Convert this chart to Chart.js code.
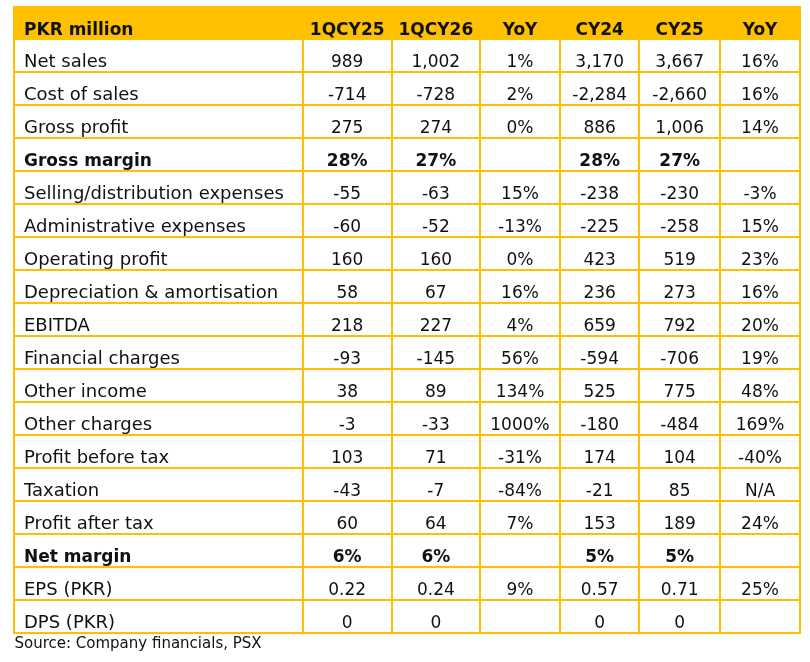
<!DOCTYPE html>
<html>
<head>
<meta charset="utf-8">
<script src="https://cdn.jsdelivr.net/npm/chart.js@4.4.1/dist/chart.umd.min.js"></script>
<style>
  html, body { margin: 0; padding: 0; background: #ffffff; }
  #wrap { position: relative; width: 810px; height: 662px; }
</style>
</head>
<body>
<div id="wrap"><canvas id="c"></canvas></div>
<script>
// ---- data ----
const headerLabel = 'PKR million';
const columnHeaders = ['1QCY25', '1QCY26', 'YoY', 'CY24', 'CY25', 'YoY'];
const rowLabels = [
  'Net sales', 'Cost of sales', 'Gross profit', 'Gross margin',
  'Selling/distribution expenses', 'Administrative expenses', 'Operating profit',
  'Depreciation & amortisation', 'EBITDA', 'Financial charges', 'Other income',
  'Other charges', 'Profit before tax', 'Taxation', 'Profit after tax',
  'Net margin', 'EPS (PKR)', 'DPS (PKR)'
];
const q1cy25 = ['989', '-714', '275', '28%', '-55', '-60', '160', '58', '218', '-93', '38', '-3', '103', '-43', '60', '6%', '0.22', '0'];
const q1cy26 = ['1,002', '-728', '274', '27%', '-63', '-52', '160', '67', '227', '-145', '89', '-33', '71', '-7', '64', '6%', '0.24', '0'];
const yoyQuarter = ['1%', '2%', '0%', '', '15%', '-13%', '0%', '16%', '4%', '56%', '134%', '1000%', '-31%', '-84%', '7%', '', '9%', ''];
const cy24 = ['3,170', '-2,284', '886', '28%', '-238', '-225', '423', '236', '659', '-594', '525', '-180', '174', '-21', '153', '5%', '0.57', '0'];
const cy25 = ['3,667', '-2,660', '1,006', '27%', '-230', '-258', '519', '273', '792', '-706', '775', '-484', '104', '85', '189', '5%', '0.71', '0'];
const yoyYear = ['16%', '16%', '14%', '', '-3%', '15%', '23%', '16%', '20%', '19%', '48%', '169%', '-40%', 'N/A', '24%', '', '25%', ''];
const boldRows = ['Gross margin', 'Net margin'];
const sourceNote = 'Source: Company financials, PSX';

// ---- layout / style (not data) ----
const colWidths = [288.7, 89, 88.3, 80, 79.3, 80.7, 80];
const YELLOW = '#FFC000';
const INK = '#111111';
const FONT = '"DejaVu Sans", sans-serif';

const valueColumns = [q1cy25, q1cy26, yoyQuarter, cy24, cy25, yoyYear];
const colEdges = [0];
colWidths.forEach(w => colEdges.push(colEdges[colEdges.length - 1] + w));
const totalW = colEdges[colEdges.length - 1];
const nRows = rowLabels.length + 1;

const tablePlugin = {
  id: 'tablePlugin',
  afterDraw(chart) {
    const ctx = chart.ctx;
    const xs = chart.scales.x, ys = chart.scales.y;
    const X = v => xs.getPixelForValue(v);
    const Y = v => ys.getPixelForValue(v);
    ctx.save();
    // header fill
    ctx.fillStyle = YELLOW;
    ctx.fillRect(X(0) - 1, Y(0), X(totalW) - X(0) + 2, Y(1) - Y(0) + 1);
    // horizontal lines
    ctx.strokeStyle = YELLOW;
    ctx.lineWidth = 2;
    for (let r = 1; r <= nRows; r++) {
      const y = Math.round(Y(r));
      ctx.beginPath();
      ctx.moveTo(X(0) - 1, y);
      ctx.lineTo(X(totalW) + 1, y);
      ctx.stroke();
    }
    // vertical lines
    ctx.lineWidth = 2;
    for (let c = 0; c < colEdges.length; c++) {
      const x = Math.round(X(colEdges[c]));
      ctx.beginPath();
      ctx.moveTo(x, Y(1) - 1);
      ctx.lineTo(x, Math.round(Y(nRows)) + 1);
      ctx.stroke();
    }
    // header text
    ctx.fillStyle = INK;
    ctx.textBaseline = 'alphabetic';
    ctx.font = 'bold 17px ' + FONT;
    ctx.textAlign = 'left';
    ctx.fillText(headerLabel, X(0) + 10, Y(1) - 4.5);
    ctx.textAlign = 'center';
    columnHeaders.forEach((h, i) => {
      const cx = (X(colEdges[i + 1]) + X(colEdges[i + 2])) / 2;
      ctx.fillText(h, cx, Y(1) - 4.5);
    });
    // rows
    rowLabels.forEach((lab, r) => {
      const bold = boldRows.includes(lab);
      const base = Y(r + 2) - 5;
      ctx.textAlign = 'left';
      ctx.font = (bold ? 'bold 17px ' : '18px ') + FONT;
      ctx.fillText(lab, X(0) + 10, base);
      ctx.textAlign = 'center';
      ctx.font = (bold ? 'bold 17px ' : '17px ') + FONT;
      valueColumns.forEach((col, i) => {
        const cx = (X(colEdges[i + 1]) + X(colEdges[i + 2])) / 2;
        ctx.fillText(col[r], cx, base);
      });
    });
    // source note
    ctx.textAlign = 'left';
    ctx.font = '15px ' + FONT;
    ctx.fillText(sourceNote, X(0) + 0.5, Y(nRows) + 15);
    ctx.restore();
  }
};

new Chart(document.getElementById('c'), {
  type: 'scatter',
  data: { datasets: [{ data: [], showLine: false }] },
  options: {
    responsive: true,
    maintainAspectRatio: false,
    animation: false,
    events: [],
    layout: { padding: { left: 14, right: 10, top: 6, bottom: 29 } },
    plugins: { legend: { display: false }, tooltip: { enabled: false }, title: { display: false } },
    scales: {
      x: { type: 'linear', min: 0, max: totalW, display: false },
      y: { type: 'linear', min: 0, max: nRows, reverse: true, display: false }
    }
  },
  plugins: [tablePlugin]
});
</script>
</body>
</html>
